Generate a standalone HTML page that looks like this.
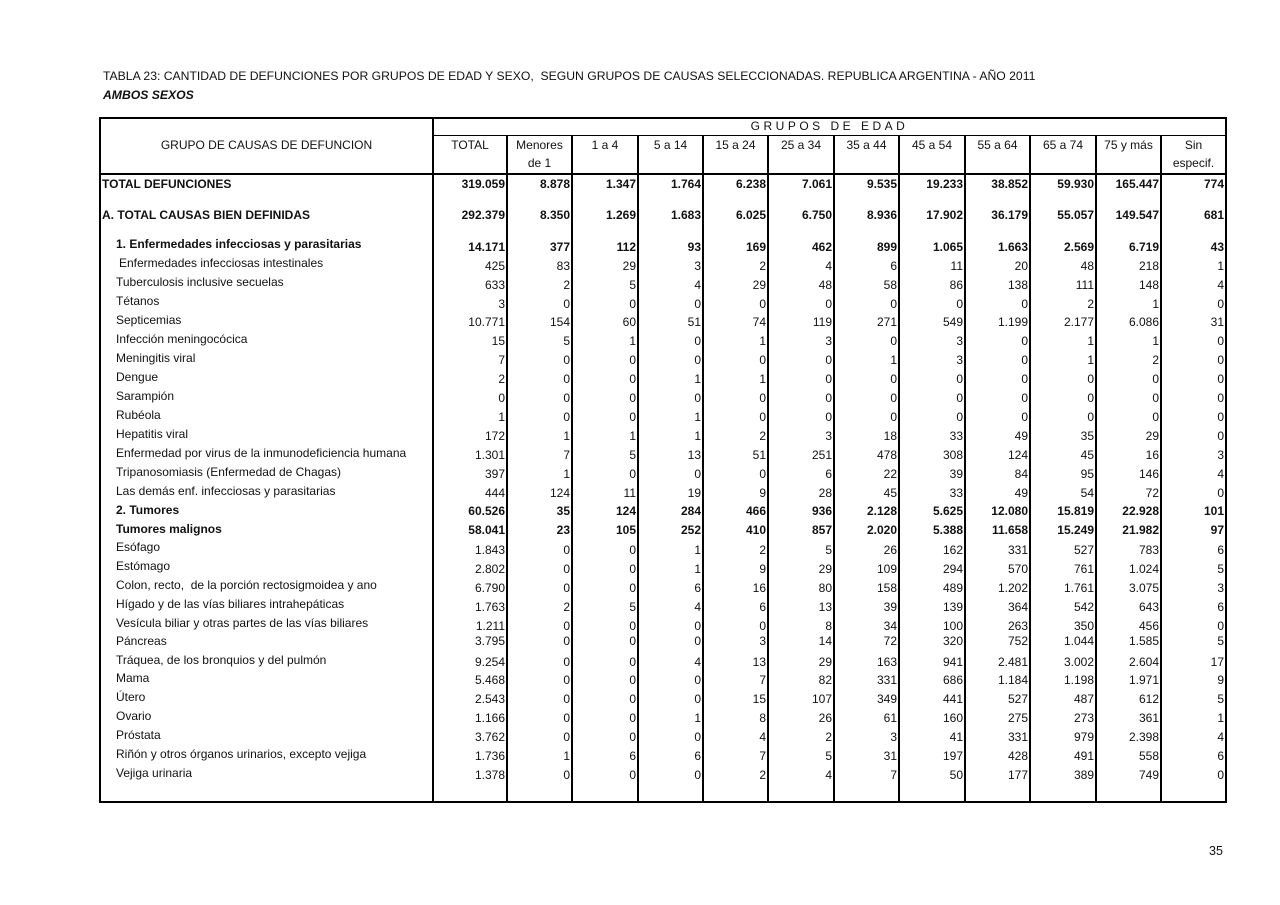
<!DOCTYPE html>
<html><head><meta charset="utf-8"><style>
body{margin:0;width:1280px;height:905px;background:#fff;position:relative;font-family:"Liberation Sans",sans-serif;color:#111;overflow:hidden}
.a{position:absolute;white-space:nowrap}
.t{font-size:12.2px}
.vl{position:absolute;width:1px;background:#000}
.hl{position:absolute;height:1px;background:#000}
.h{position:absolute;font-size:12px;text-align:center}
.r{position:absolute;left:433px;height:14px;line-height:14px;font-size:12px;display:flex}
.r i{font-style:normal;text-align:right;box-sizing:border-box;padding-right:2px;width:65px}
.r i:nth-child(1){width:74px}
.r i:nth-child(3),.r i:nth-child(6),.r i:nth-child(8),.r i:nth-child(10){width:66px}
.b{font-weight:bold}
.l{position:absolute;font-size:12px;line-height:14px;white-space:nowrap;left:116px}
</style></head><body>
<div class="a t" style="left:103px;top:69px">TABLA 23: CANTIDAD DE DEFUNCIONES POR GRUPOS DE EDAD Y SEXO,&nbsp; SEGUN GRUPOS DE CAUSAS SELECCIONADAS. REPUBLICA ARGENTINA - AÑO 2011</div>
<div class="a t" style="left:103px;top:88px;font-weight:bold;font-style:italic">AMBOS SEXOS</div>

<div class="hl" style="left:100px;top:117px;width:1127px;height:2px"></div>
<div class="hl" style="left:100px;top:801px;width:1127px;height:2px"></div>
<div class="vl" style="left:99px;top:117px;height:686px;width:2px"></div>
<div class="vl" style="left:1225px;top:117px;height:686px;width:2px"></div>
<div class="vl" style="left:432px;top:117px;height:686px;width:2px"></div>
<div class="hl" style="left:433px;top:135px;width:793px"></div>
<div class="hl" style="left:100px;top:173px;width:1127px;height:2px"></div>
<div class="vl" style="left:506px;top:135px;height:668px;width:2px"></div>
<div class="vl" style="left:571px;top:135px;height:668px;width:2px"></div>
<div class="vl" style="left:637px;top:135px;height:668px;width:2px"></div>
<div class="vl" style="left:702px;top:135px;height:668px;width:2px"></div>
<div class="vl" style="left:767px;top:135px;height:668px;width:2px"></div>
<div class="vl" style="left:833px;top:135px;height:668px;width:2px"></div>
<div class="vl" style="left:898px;top:135px;height:668px;width:2px"></div>
<div class="vl" style="left:964px;top:135px;height:668px;width:2px"></div>
<div class="vl" style="left:1029px;top:135px;height:668px;width:2px"></div>
<div class="vl" style="left:1095px;top:135px;height:668px;width:2px"></div>
<div class="vl" style="left:1160px;top:135px;height:668px;width:2px"></div>

<div class="h" style="left:433px;width:793px;top:119px;letter-spacing:3.5px">GRUPOS DE EDAD</div>
<div class="h" style="left:100px;width:333px;top:138px">GRUPO DE CAUSAS DE DEFUNCION</div>
<div class="h" style="left:433px;width:74px;top:138px">TOTAL</div>
<div class="h" style="left:507px;width:65px;top:138px">Menores</div>
<div class="h" style="left:507px;width:65px;top:156px">de 1</div>
<div class="h" style="left:572px;width:66px;top:138px">1 a 4</div>
<div class="h" style="left:638px;width:65px;top:138px">5 a 14</div>
<div class="h" style="left:703px;width:65px;top:138px">15 a 24</div>
<div class="h" style="left:768px;width:66px;top:138px">25 a 34</div>
<div class="h" style="left:834px;width:65px;top:138px">35 a 44</div>
<div class="h" style="left:899px;width:66px;top:138px">45 a 54</div>
<div class="h" style="left:965px;width:65px;top:138px">55 a 64</div>
<div class="h" style="left:1030px;width:66px;top:138px">65 a 74</div>
<div class="h" style="left:1096px;width:65px;top:138px">75 y más</div>
<div class="h" style="left:1161px;width:65px;top:138px">Sin</div>
<div class="h" style="left:1161px;width:65px;top:156px">especif.</div>

<div class="l b" style="left:102px;top:177px">TOTAL DEFUNCIONES</div>
<div class="r b" style="top:177px"><i>319.059</i><i>8.878</i><i>1.347</i><i>1.764</i><i>6.238</i><i>7.061</i><i>9.535</i><i>19.233</i><i>38.852</i><i>59.930</i><i>165.447</i><i>774</i></div>
<div class="l b" style="left:102px;top:208px">A. TOTAL CAUSAS BIEN DEFINIDAS</div>
<div class="r b" style="top:208px"><i>292.379</i><i>8.350</i><i>1.269</i><i>1.683</i><i>6.025</i><i>6.750</i><i>8.936</i><i>17.902</i><i>36.179</i><i>55.057</i><i>149.547</i><i>681</i></div>
<div class="l b" style="top:237px">1. Enfermedades infecciosas y parasitarias</div>
<div class="r b" style="top:240px"><i>14.171</i><i>377</i><i>112</i><i>93</i><i>169</i><i>462</i><i>899</i><i>1.065</i><i>1.663</i><i>2.569</i><i>6.719</i><i>43</i></div>
<div class="l" style="left:119px;top:256px">Enfermedades infecciosas intestinales</div>
<div class="r" style="top:259px"><i>425</i><i>83</i><i>29</i><i>3</i><i>2</i><i>4</i><i>6</i><i>11</i><i>20</i><i>48</i><i>218</i><i>1</i></div>
<div class="l" style="top:275px">Tuberculosis inclusive secuelas</div>
<div class="r" style="top:278px"><i>633</i><i>2</i><i>5</i><i>4</i><i>29</i><i>48</i><i>58</i><i>86</i><i>138</i><i>111</i><i>148</i><i>4</i></div>
<div class="l" style="top:294px">Tétanos</div>
<div class="r" style="top:297px"><i>3</i><i>0</i><i>0</i><i>0</i><i>0</i><i>0</i><i>0</i><i>0</i><i>0</i><i>2</i><i>1</i><i>0</i></div>
<div class="l" style="top:313px">Septicemias</div>
<div class="r" style="top:315px"><i>10.771</i><i>154</i><i>60</i><i>51</i><i>74</i><i>119</i><i>271</i><i>549</i><i>1.199</i><i>2.177</i><i>6.086</i><i>31</i></div>
<div class="l" style="top:332px">Infección meningocócica</div>
<div class="r" style="top:334px"><i>15</i><i>5</i><i>1</i><i>0</i><i>1</i><i>3</i><i>0</i><i>3</i><i>0</i><i>1</i><i>1</i><i>0</i></div>
<div class="l" style="top:351px">Meningitis viral</div>
<div class="r" style="top:353px"><i>7</i><i>0</i><i>0</i><i>0</i><i>0</i><i>0</i><i>1</i><i>3</i><i>0</i><i>1</i><i>2</i><i>0</i></div>
<div class="l" style="top:370px">Dengue</div>
<div class="r" style="top:372px"><i>2</i><i>0</i><i>0</i><i>1</i><i>1</i><i>0</i><i>0</i><i>0</i><i>0</i><i>0</i><i>0</i><i>0</i></div>
<div class="l" style="top:389px">Sarampión</div>
<div class="r" style="top:391px"><i>0</i><i>0</i><i>0</i><i>0</i><i>0</i><i>0</i><i>0</i><i>0</i><i>0</i><i>0</i><i>0</i><i>0</i></div>
<div class="l" style="top:408px">Rubéola</div>
<div class="r" style="top:410px"><i>1</i><i>0</i><i>0</i><i>1</i><i>0</i><i>0</i><i>0</i><i>0</i><i>0</i><i>0</i><i>0</i><i>0</i></div>
<div class="l" style="top:427px">Hepatitis viral</div>
<div class="r" style="top:429px"><i>172</i><i>1</i><i>1</i><i>1</i><i>2</i><i>3</i><i>18</i><i>33</i><i>49</i><i>35</i><i>29</i><i>0</i></div>
<div class="l" style="top:446px">Enfermedad por virus de la inmunodeficiencia humana</div>
<div class="r" style="top:448px"><i>1.301</i><i>7</i><i>5</i><i>13</i><i>51</i><i>251</i><i>478</i><i>308</i><i>124</i><i>45</i><i>16</i><i>3</i></div>
<div class="l" style="top:465px">Tripanosomiasis (Enfermedad de Chagas)</div>
<div class="r" style="top:467px"><i>397</i><i>1</i><i>0</i><i>0</i><i>0</i><i>6</i><i>22</i><i>39</i><i>84</i><i>95</i><i>146</i><i>4</i></div>
<div class="l" style="top:484px">Las demás enf. infecciosas y parasitarias</div>
<div class="r" style="top:486px"><i>444</i><i>124</i><i>11</i><i>19</i><i>9</i><i>28</i><i>45</i><i>33</i><i>49</i><i>54</i><i>72</i><i>0</i></div>
<div class="l b" style="top:503px">2. Tumores</div>
<div class="r b" style="top:504px"><i>60.526</i><i>35</i><i>124</i><i>284</i><i>466</i><i>936</i><i>2.128</i><i>5.625</i><i>12.080</i><i>15.819</i><i>22.928</i><i>101</i></div>
<div class="l b" style="top:522px">Tumores malignos</div>
<div class="r b" style="top:523px"><i>58.041</i><i>23</i><i>105</i><i>252</i><i>410</i><i>857</i><i>2.020</i><i>5.388</i><i>11.658</i><i>15.249</i><i>21.982</i><i>97</i></div>
<div class="l" style="top:540px">Esófago</div>
<div class="r" style="top:543px"><i>1.843</i><i>0</i><i>0</i><i>1</i><i>2</i><i>5</i><i>26</i><i>162</i><i>331</i><i>527</i><i>783</i><i>6</i></div>
<div class="l" style="top:559px">Estómago</div>
<div class="r" style="top:562px"><i>2.802</i><i>0</i><i>0</i><i>1</i><i>9</i><i>29</i><i>109</i><i>294</i><i>570</i><i>761</i><i>1.024</i><i>5</i></div>
<div class="l" style="top:578px">Colon, recto,&nbsp; de la porción rectosigmoidea y ano</div>
<div class="r" style="top:581px"><i>6.790</i><i>0</i><i>0</i><i>6</i><i>16</i><i>80</i><i>158</i><i>489</i><i>1.202</i><i>1.761</i><i>3.075</i><i>3</i></div>
<div class="l" style="top:597px">Hígado y de las vías biliares intrahepáticas</div>
<div class="r" style="top:600px"><i>1.763</i><i>2</i><i>5</i><i>4</i><i>6</i><i>13</i><i>39</i><i>139</i><i>364</i><i>542</i><i>643</i><i>6</i></div>
<div class="l" style="top:616px">Vesícula biliar y otras partes de las vías biliares</div>
<div class="r" style="top:619px"><i>1.211</i><i>0</i><i>0</i><i>0</i><i>0</i><i>8</i><i>34</i><i>100</i><i>263</i><i>350</i><i>456</i><i>0</i></div>
<div class="l" style="top:634px">Páncreas</div>
<div class="r" style="top:634px"><i>3.795</i><i>0</i><i>0</i><i>0</i><i>3</i><i>14</i><i>72</i><i>320</i><i>752</i><i>1.044</i><i>1.585</i><i>5</i></div>
<div class="l" style="top:653px">Tráquea, de los bronquios y del pulmón</div>
<div class="r" style="top:655px"><i>9.254</i><i>0</i><i>0</i><i>4</i><i>13</i><i>29</i><i>163</i><i>941</i><i>2.481</i><i>3.002</i><i>2.604</i><i>17</i></div>
<div class="l" style="top:671px">Mama</div>
<div class="r" style="top:673px"><i>5.468</i><i>0</i><i>0</i><i>0</i><i>7</i><i>82</i><i>331</i><i>686</i><i>1.184</i><i>1.198</i><i>1.971</i><i>9</i></div>
<div class="l" style="top:690px">Útero</div>
<div class="r" style="top:692px"><i>2.543</i><i>0</i><i>0</i><i>0</i><i>15</i><i>107</i><i>349</i><i>441</i><i>527</i><i>487</i><i>612</i><i>5</i></div>
<div class="l" style="top:709px">Ovario</div>
<div class="r" style="top:711px"><i>1.166</i><i>0</i><i>0</i><i>1</i><i>8</i><i>26</i><i>61</i><i>160</i><i>275</i><i>273</i><i>361</i><i>1</i></div>
<div class="l" style="top:728px">Próstata</div>
<div class="r" style="top:730px"><i>3.762</i><i>0</i><i>0</i><i>0</i><i>4</i><i>2</i><i>3</i><i>41</i><i>331</i><i>979</i><i>2.398</i><i>4</i></div>
<div class="l" style="top:747px">Riñón y otros órganos urinarios, excepto vejiga</div>
<div class="r" style="top:749px"><i>1.736</i><i>1</i><i>6</i><i>6</i><i>7</i><i>5</i><i>31</i><i>197</i><i>428</i><i>491</i><i>558</i><i>6</i></div>
<div class="l" style="top:766px">Vejiga urinaria</div>
<div class="r" style="top:768px"><i>1.378</i><i>0</i><i>0</i><i>0</i><i>2</i><i>4</i><i>7</i><i>50</i><i>177</i><i>389</i><i>749</i><i>0</i></div>

<div class="a t" style="left:1209px;top:844px;font-size:12.5px">35</div>
</body></html>
